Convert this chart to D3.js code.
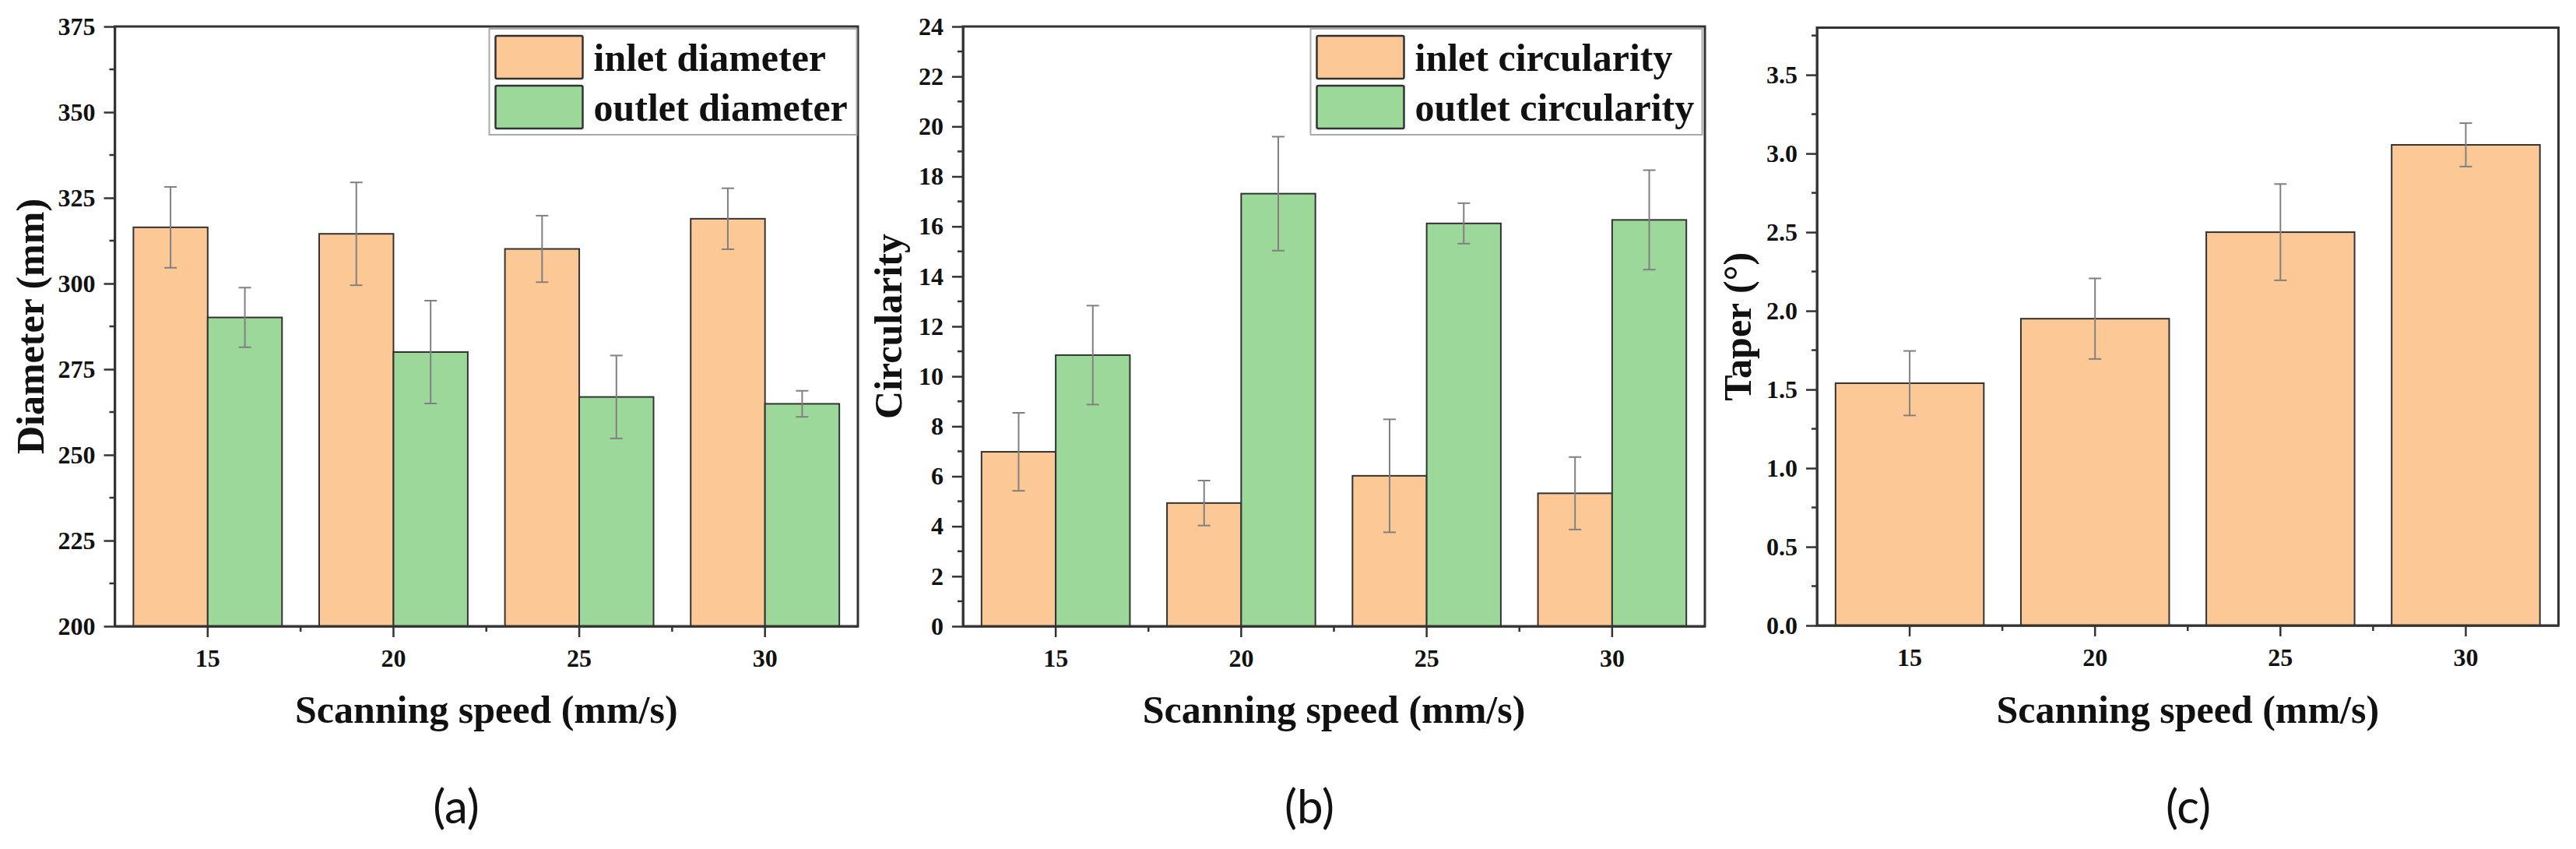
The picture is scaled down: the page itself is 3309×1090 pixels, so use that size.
<!DOCTYPE html>
<html>
<head>
<meta charset="utf-8">
<title>Scanning speed bars</title>
<script src="https://cdn.jsdelivr.net/npm/d3@7"></script>
<style>
  body { margin: 0; background: #fff; }
  svg { display: block; }
  .axis text { font-family: "Liberation Serif", "Times New Roman", serif; font-weight: bold; font-size: 32px; fill: #111; }
  .axis path, .axis line { stroke: #333; stroke-width: 2.5px; }
  .title { font-family: "Liberation Serif", "Times New Roman", serif; font-weight: bold; fill: #111; }
  .legend text { font-family: "Liberation Serif", "Times New Roman", serif; font-weight: bold; font-size: 50px; fill: #111; }
  .sub { font-family: Lato, "Open Sans", sans-serif; font-size: 60px; fill: #111; }
</style>
</head>
<body>
<script>
// values
var categories = ["15", "20", "25", "30"];

var inletDiameter     = [316.4, 314.5, 310.1, 318.9];
var inletDiameterErr  = [11.8, 15.0, 9.7, 8.9];
var outletDiameter    = [290.1, 280.0, 266.9, 264.9];
var outletDiameterErr = [8.7, 15.0, 12.1, 3.8];

var inletCircularity     = [6.98, 4.93, 6.02, 5.32];
var inletCircularityErr  = [1.56, 0.90, 2.26, 1.45];
var outletCircularity    = [10.85, 17.31, 16.12, 16.26];
var outletCircularityErr = [1.98, 2.28, 0.81, 1.99];

var taper    = [1.54, 1.95, 2.50, 3.055];
var taperErr = [0.205, 0.256, 0.306, 0.138];

var diameterTicks    = [200, 225, 250, 275, 300, 325, 350, 375];
var circularityTicks = [0, 2, 4, 6, 8, 10, 12, 14, 16, 18, 20, 22, 24];
var taperTicks       = [0, 0.5, 1.0, 1.5, 2.0, 2.5, 3.0, 3.5];

var inletColor = "#fcc896", outletColor = "#9dd89b";

var svg = d3.select("body").append("svg")
    .attr("width", 3309)
    .attr("height", 1090);

function panel(p) {
    var g = svg.append("g");

    var x = d3.scaleBand().domain(categories).range([p.left, p.right]).padding(0);
    var y = d3.scaleLinear().domain(p.domain).range([p.bottom, p.top]);
    var bw = x.bandwidth();

    // bars fill the middle 80% of each category slot
    var sub = d3.scaleBand().domain(d3.range(p.series.length))
        .range([0.1 * bw, 0.9 * bw]);

    // bars
    p.series.forEach(function (s, si) {
        g.selectAll(null)
            .data(s.values)
            .enter().append("rect")
            .attr("x", function (d, i) { return x(categories[i]) + sub(si); })
            .attr("y", function (d) { return y(d); })
            .attr("width", sub.bandwidth())
            .attr("height", function (d) { return y(p.domain[0]) - y(d); })
            .attr("fill", s.color)
            .attr("stroke", "#333")
            .attr("stroke-width", 2);
    });

    // error bars
    p.series.forEach(function (s, si) {
        var eg = g.selectAll(null)
            .data(s.values)
            .enter().append("g")
            .attr("stroke", "#808080")
            .attr("stroke-width", 2);
        var cx = function (d, i) { return x(categories[i]) + sub(si) + sub.bandwidth() / 2; };
        eg.append("line")
            .attr("x1", cx).attr("x2", cx)
            .attr("y1", function (d, i) { return y(d + s.err[i]); })
            .attr("y2", function (d, i) { return y(d - s.err[i]); });
        [1, -1].forEach(function (sign) {
            eg.append("line")
                .attr("x1", function (d, i) { return cx(d, i) - 8; })
                .attr("x2", function (d, i) { return cx(d, i) + 8; })
                .attr("y1", function (d, i) { return y(d + sign * s.err[i]); })
                .attr("y2", function (d, i) { return y(d + sign * s.err[i]); });
        });
    });

    // axes
    g.append("g")
        .attr("class", "axis")
        .attr("transform", "translate(0," + p.bottom + ")")
        .call(d3.axisBottom(x).tickSize(14).tickPadding(15).tickSizeOuter(0));

    g.append("g")
        .attr("class", "axis")
        .attr("transform", "translate(" + p.left + ",0)")
        .call(d3.axisLeft(y).tickValues(p.ticks).tickFormat(p.format)
            .tickSize(14).tickPadding(11).tickSizeOuter(0));

    // minor ticks
    var step = p.ticks[1] - p.ticks[0];
    var minorY = p.ticks.map(function (t) { return t + step / 2; })
        .filter(function (t) { return t < p.domain[1]; });
    g.append("g").selectAll("line")
        .data(minorY)
        .enter().append("line")
        .attr("x1", p.left - 7).attr("x2", p.left)
        .attr("y1", y).attr("y2", y)
        .attr("stroke", "#333").attr("stroke-width", 2.5);

    g.append("g").selectAll("line")
        .data(categories.slice(1))
        .enter().append("line")
        .attr("x1", x).attr("x2", x)
        .attr("y1", p.bottom).attr("y2", p.bottom + 7)
        .attr("stroke", "#333").attr("stroke-width", 2.5);

    // frame
    g.append("rect")
        .attr("x", p.left).attr("y", p.top)
        .attr("width", p.right - p.left).attr("height", p.bottom - p.top)
        .attr("fill", "none").attr("stroke", "#333").attr("stroke-width", 3);

    // axis titles
    g.append("text")
        .attr("class", "title")
        .attr("x", (p.left + p.right) / 2).attr("y", 928)
        .attr("text-anchor", "middle")
        .style("font-size", "50px")
        .text("Scanning speed (mm/s)");

    g.append("text")
        .attr("class", "title")
        .attr("transform", "translate(" + p.labelX + "," + (p.top + p.bottom) / 2 + ") rotate(-90)")
        .attr("text-anchor", "middle")
        .style("font-size", "50px")
        .text(p.ylabel);

    // legend
    if (p.legend) {
        var lg = g.append("g").attr("class", "legend");
        lg.append("rect")
            .attr("x", p.legend.x).attr("y", 37)
            .attr("width", p.legend.w).attr("height", 136)
            .attr("fill", "#fff").attr("stroke", "#aaa").attr("stroke-width", 2);
        p.series.forEach(function (s, si) {
            lg.append("rect")
                .attr("x", p.legend.x + 8).attr("y", 46 + si * 64)
                .attr("width", 112).attr("height", 55)
                .attr("rx", 2)
                .attr("fill", s.color).attr("stroke", "#333").attr("stroke-width", 2.5);
            lg.append("text")
                .attr("x", p.legend.x + 134).attr("y", 91 + si * 64)
                .text(s.name);
        });
    }

    g.append("text")
        .attr("class", "sub")
        .attr("x", p.subX).attr("y", 1057)
        .attr("text-anchor", "middle")
        .text(p.subLabel);
}

panel({
    left: 147.5, right: 1102, top: 34, bottom: 804,
    domain: [200, 375], ticks: diameterTicks, format: d3.format("d"),
    ylabel: "Diameter (mm)", labelX: 56,
    series: [
        {name: "inlet diameter", values: inletDiameter, err: inletDiameterErr, color: inletColor},
        {name: "outlet diameter", values: outletDiameter, err: outletDiameterErr, color: outletColor}
    ],
    legend: {x: 628.5, w: 472},
    subX: 586, subLabel: "(a)"
});

panel({
    left: 1237, right: 2190, top: 34, bottom: 804,
    domain: [0, 24], ticks: circularityTicks, format: d3.format("d"),
    ylabel: "Circularity", labelX: 1158,
    series: [
        {name: "inlet circularity", values: inletCircularity, err: inletCircularityErr, color: inletColor},
        {name: "outlet circularity", values: outletCircularity, err: outletCircularityErr, color: outletColor}
    ],
    legend: {x: 1683.5, w: 503},
    subX: 1682, subLabel: "(b)"
});

panel({
    left: 2334, right: 3286.5, top: 35.5, bottom: 803,
    domain: [0, 3.8], ticks: taperTicks, format: d3.format(".1f"),
    ylabel: "Taper (°)", labelX: 2249,
    series: [
        {name: "taper", values: taper, err: taperErr, color: inletColor}
    ],
    legend: null,
    subX: 2811, subLabel: "(c)"
});
</script>
</body>
</html>
